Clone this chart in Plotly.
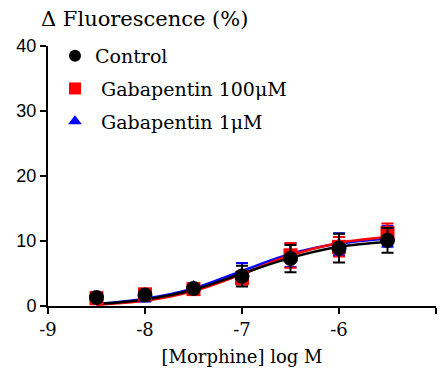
import plotly.graph_objects as go

log_dose = [-8.5, -8.0, -7.5, -7.0, -6.5, -6.0, -5.5]

control_mean = [1.3, 1.7, 2.7, 4.6, 7.3, 8.9, 10.1]
control_sem = [0.5, 0.5, 0.4, 1.6, 2.1, 2.2, 1.9]
gaba100_mean = [1.2, 1.8, 2.6, 4.3, 7.8, 9.1, 11.2]
gaba100_sem = [0.5, 0.6, 0.4, 1.0, 1.9, 1.5, 1.5]
gaba1_mean = [1.4, 1.2, 3.0, 5.0, 7.8, 9.5, 10.7]
gaba1_sem = [0.4, 0.5, 0.4, 1.6, 1.8, 1.7, 1.6]

curve_x = [-8.5, -8.0, -7.5, -7.0, -6.5, -6.0, -5.5]
control_curve = [0.3, 1.0, 2.5, 5.0, 7.4, 9.1, 9.9]
gaba100_curve = [0.2, 0.8, 2.3, 4.9, 7.8, 9.7, 10.6]
gaba1_curve = [0.3, 1.1, 2.7, 5.4, 8.0, 9.6, 10.4]

x_ticks = [-9, -8, -7, -6, -5]
y_ticks = [0, 10, 20, 30, 40]

SERIF = "DejaVu Serif"

fig = go.Figure()

series = [
    ("Gabapentin 1μM", gaba1_mean, gaba1_sem, gaba1_curve, "#0000ff", "triangle-up", 13, 3),
    ("Gabapentin 100μM", gaba100_mean, gaba100_sem, gaba100_curve, "#ff0000", "square", 14, 2),
    ("Control", control_mean, control_sem, control_curve, "#000000", "circle", 15, 1),
]

for name, mean, sem, curve, color, sym, size, rank in series:
    fig.add_trace(go.Scatter(
        x=curve_x, y=curve, mode="lines", line=dict(color=color, width=2.5, shape="spline"),
        showlegend=False, hoverinfo="skip"))

for name, mean, sem, curve, color, sym, size, rank in series:
    fig.add_trace(go.Scatter(
        x=log_dose, y=mean, mode="markers", name=(" " + name) if rank > 1 else name,
        legendrank=rank, legendgroup=f"g{rank}",
        marker=dict(color=color, symbol=sym, size=size, line=dict(width=0)),
        error_y=dict(type="data", array=sem, color=color, thickness=2, width=6, visible=True)))

fig.update_layout(
    width=444, height=372,
    margin=dict(l=48, r=8, t=46, b=66),
    plot_bgcolor="white", paper_bgcolor="white",
    showlegend=True,
    legend=dict(x=0.018, y=1.035, xanchor="left", yanchor="top", bgcolor="rgba(0,0,0,0)",
                font=dict(family=SERIF, size=19, color="black"), itemsizing="constant",
                traceorder="grouped", tracegroupgap=5),
    xaxis=dict(range=[-9, -5], tickvals=x_ticks, ticktext=[str(v) for v in x_ticks],
               automargin=False,
               showgrid=False, zeroline=False, showline=True, linecolor="black", linewidth=2,
               ticks="outside", ticklen=6, tickwidth=2, tickcolor="black",
               tickfont=dict(family=SERIF, size=18, color="black"),
               title=dict(text="[Morphine] log M", font=dict(family=SERIF, size=18, color="black"), standoff=12)),
    yaxis=dict(range=[0, 40], tickvals=y_ticks, showgrid=False, zeroline=False, showline=True,
               automargin=False,
               linecolor="black", linewidth=2, ticks="outside", ticklen=6, tickwidth=2, tickcolor="black",
               tickfont=dict(family="Liberation Sans", size=18, color="black")),
)
fig.add_annotation(text="Δ Fluorescence (%)", xref="paper", yref="paper", x=-0.022, y=1.05,
                   xanchor="left", yanchor="bottom", showarrow=False,
                   font=dict(family=SERIF, size=21, color="black"))

fig.write_html("out.html", config={"displayModeBar": False},
               post_script="document.body.style.margin='0';document.body.style.overflow='hidden';")
